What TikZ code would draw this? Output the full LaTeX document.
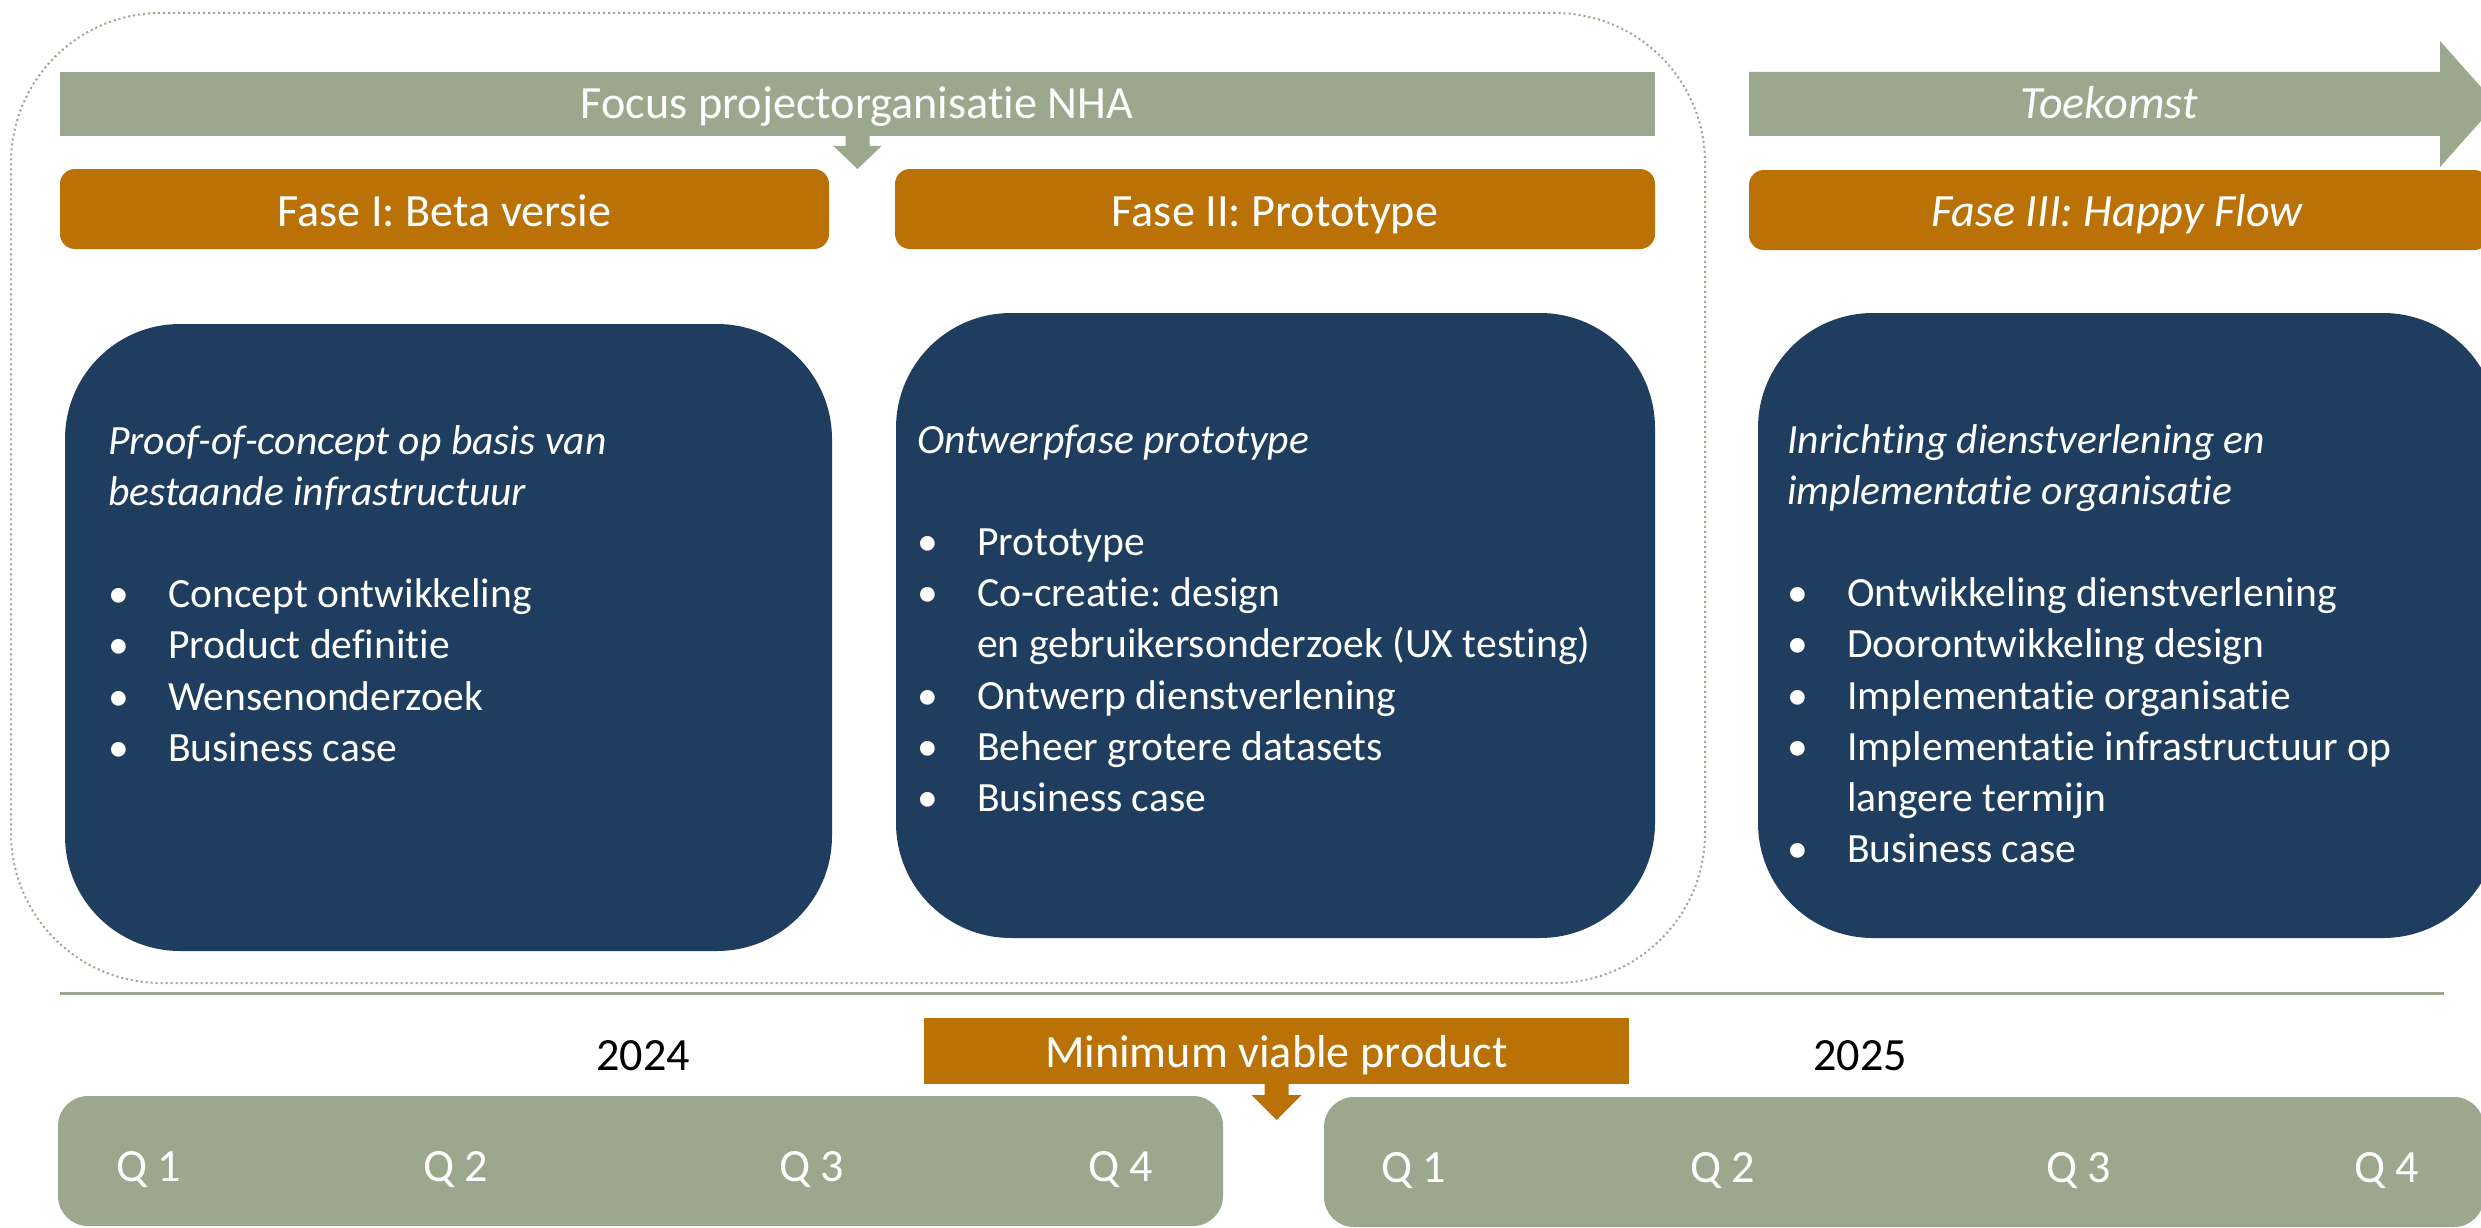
\documentclass[tikz,border=0pt]{standalone}
\usepackage{fontspec}
\setmainfont{Carlito}[Ligatures={NoCommon}]
\usetikzlibrary{calc}
\definecolor{sage}{HTML}{9CA88E}
\definecolor{ochre}{HTML}{BA7206}
\definecolor{navy}{HTML}{1E3D5F}
\frenchspacing
\newcommand{\bigfont}{\fontsize{46.2pt}{55pt}\selectfont}
\newcommand{\bodyfont}{\fontsize{41.6pt}{51.2pt}\selectfont}
\newcommand{\itm}[1]{\makebox[60pt][l]{•}#1}
\newcommand{\cont}[1]{\hspace*{60pt}#1}
\begin{document}
\begin{tikzpicture}[x=1pt,y=-1pt,
  shapebox/.style={inner sep=0pt, outer sep=0pt, anchor=north west},
  sagebar/.style={shapebox, fill=sage},
  phasebox/.style={shapebox, fill=ochre, rounded corners=15pt},
  navybox/.style={shapebox, fill=navy, rounded corners=115pt},
  qbar/.style={shapebox, fill=sage, rounded corners=30pt},
  frame/.style={shapebox, draw=sage, line width=2pt, dash pattern=on 2pt off 3pt, rounded corners=150pt},
  bigtxt/.style={inner sep=0pt, anchor=base, font=\bigfont, text=white},
  qtxt/.style={inner sep=0pt, anchor=base west, font=\bigfont, text=white},
  yeartxt/.style={inner sep=0pt, anchor=base, font=\bigfont, text=black},
  bodytxt/.style={inner sep=0pt, anchor=base west, font=\bodyfont, text=white}
]
\useasboundingbox (0,0) rectangle (2481,1228);
\clip (0,0) rectangle (2481,1228);
\fill[white] (0,0) rectangle (2481,1228);

% dotted frame
\node[frame, minimum width=1694pt, minimum height=970pt] (frm) at (11,13) {};

% top bars
\node[sagebar, minimum width=1595pt, minimum height=64pt] (focus) at (60,72) {};
\node[bigtxt] (focustxt) at (857,119) {Focus projectorganisatie NHA};

\fill[sage] (1749,72) -- (2440,72) -- (2440,41) -- (2496,104) -- (2440,167) -- (2440,136) -- (1749,136) -- cycle;
\node[bigtxt] (toektxt) at (2109,119) {\itshape Toekomst};

% phase boxes
\node[phasebox, minimum width=769pt, minimum height=80pt] (f1) at (60,169) {};
\node[phasebox, minimum width=760pt, minimum height=80pt] (f2) at (895,169) {};
\node[phasebox, minimum width=740pt, minimum height=80pt] (f3) at (1749,170) {};
\node[bigtxt] (f1txt) at (444.5,226) {Fase I: Beta versie};
\node[bigtxt] (f2txt) at (1275,226) {Fase II: Prototype};
\node[bigtxt] (f3txt) at (2117,226) {\itshape Fase III: Happy Flow};

% arrow from focus bar
\coordinate (a1tip) at (focus.south |- f1.north);
\fill[sage] ($(focus.south)+(-12,0)$) -- ++(0,10) -- ++(-12,0) -- (a1tip)
  -- ($(focus.south)+(24,10)$) -- ++(-12,0) -- ($(focus.south)+(12,0)$) -- cycle;

% navy boxes
\node[navybox, minimum width=767pt, minimum height=627pt] (b1) at (65,324) {};
\node[navybox, minimum width=759pt, minimum height=625pt] (b2) at (896,313) {};
\node[navybox, minimum width=740pt, minimum height=625pt] (b3) at (1758,313) {};

\node[bodytxt] (t1) at (108,454) {\parbox[t]{720pt}{\raggedright
\textit{Proof-of-concept op basis van}\\
\textit{bestaande infrastructuur}\\
\mbox{}\\
\itm{Concept ontwikkeling}\\
\itm{Product definitie}\\
\itm{Wensenonderzoek}\\
\itm{Business case}}};

\node[bodytxt] (t2) at (917,453) {\parbox[t]{720pt}{\raggedright
\textit{Ontwerpfase prototype}\\
\mbox{}\\
\itm{Prototype}\\
\itm{Co-creatie: design}\\
\cont{en gebruikersonderzoek (UX testing)}\\
\itm{Ontwerp dienstverlening}\\
\itm{Beheer grotere datasets}\\
\itm{Business case}}};

\node[bodytxt] (t3) at (1787,453) {\parbox[t]{720pt}{\raggedright
\textit{Inrichting dienstverlening en}\\
\textit{implementatie organisatie}\\
\mbox{}\\
\itm{Ontwikkeling dienstverlening}\\
\itm{Doorontwikkeling design}\\
\itm{Implementatie organisatie}\\
\itm{Implementatie infrastructuur op}\\
\cont{langere termijn}\\
\itm{Business case}}};

% separator line
\coordinate (sepL) at (60,993);
\coordinate (sepR) at (2444,993);
\draw[sage, line width=3pt] (sepL) -- (sepR);

% years and MVP
\node[yeartxt] (y24) at (643,1070) {2024};
\node[yeartxt] (y25) at (1860,1070) {2025};
\node[shapebox, fill=ochre, minimum width=705pt, minimum height=66pt] (mvp) at (924,1018) {};
\node[bigtxt] (mvptxt) at (1276.5,1067) {Minimum viable product};
\coordinate (a2tip) at ($(mvp.south)+(0,36)$);
\fill[ochre] ($(mvp.south)+(-12,0)$) -- ++(0,11) -- ++(-13,0) -- (a2tip)
  -- ($(mvp.south)+(25,11)$) -- ++(-13,0) -- ($(mvp.south)+(12,0)$) -- cycle;

% quarter bars
\node[qbar, minimum width=1165pt, minimum height=130pt] (q24) at (58,1096) {};
\node[qbar, minimum width=1160pt, minimum height=130pt] (q25) at (1324,1097) {};
\node[qtxt] (q241) at (116,1181) {Q 1};
\node[qtxt] (q242) at (423,1181) {Q 2};
\node[qtxt] (q243) at (779,1181) {Q 3};
\node[qtxt] (q244) at (1088,1181) {Q 4};
\node[qtxt] (q251) at (1381,1182) {Q 1};
\node[qtxt] (q252) at (1690,1182) {Q 2};
\node[qtxt] (q253) at (2046,1182) {Q 3};
\node[qtxt] (q254) at (2354,1182) {Q 4};
\end{tikzpicture}
\end{document}
